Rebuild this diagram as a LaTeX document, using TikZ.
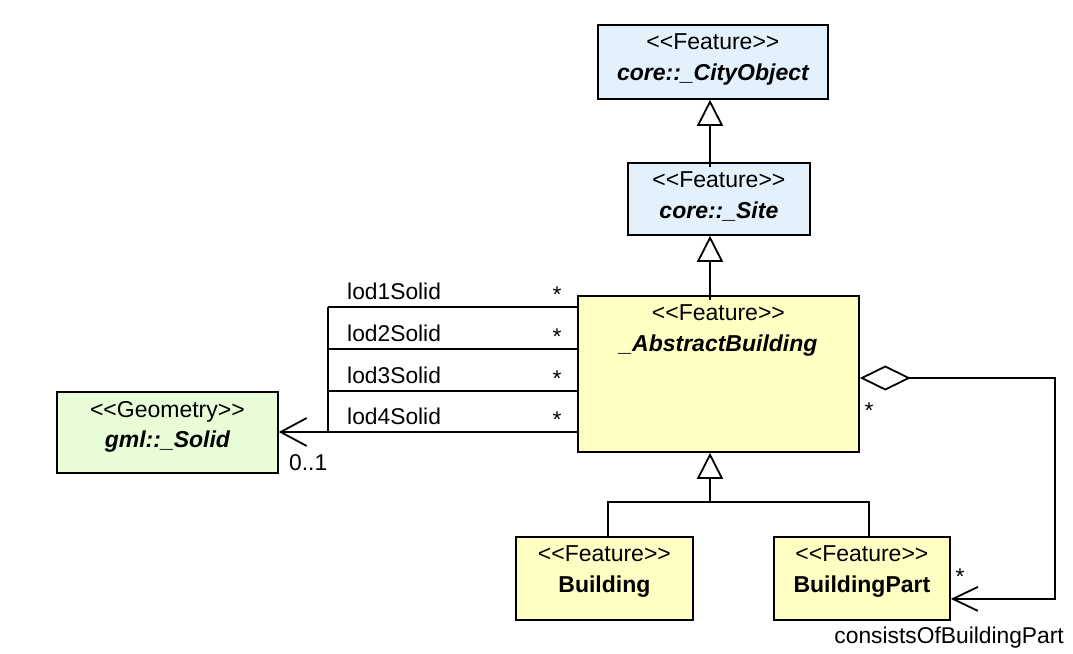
\documentclass[tikz,border=0pt]{standalone}
\usepackage{fontspec}
\setmainfont{Liberation Sans}[Ligatures=TeXOff]
\usepackage{tikz}
\usetikzlibrary{arrows.meta}
\definecolor{featblue}{HTML}{E3F1FC}
\definecolor{featyellow}{HTML}{FFFFC4}
\definecolor{geomgreen}{HTML}{E8FCD8}
\tikzset{
  cls/.style={draw, rectangle, line width=1.8pt, inner sep=0pt, anchor=north west},
  stereo/.style={anchor=base, font=\fontsize{23}{27}\selectfont},
  clsname/.style={anchor=base, font=\fontsize{23}{27}\selectfont\bfseries\itshape},
  clsbold/.style={anchor=base, font=\fontsize{23}{27}\selectfont\bfseries},
  role/.style={anchor=base, inner sep=0pt, font=\fontsize{22.8}{26}\selectfont},
  conn/.style={line width=1.8pt},
  gen/.style={conn, -{Triangle[open, length=26pt, width=26pt]}},
  nav/.style={conn, -{Straight Barb[length=26pt, width=28pt]}},
  agg/.style={conn, {Diamond[open, length=51pt, width=25pt]}-{Straight Barb[length=25pt, width=24pt]}}
}
\begin{document}
\begin{tikzpicture}[x=1pt, y=-1pt]
  \useasboundingbox (0,0) rectangle (1073,653);
  \node[cls, fill=featblue, minimum width=230pt, minimum height=74pt] (cityobj) at (597,24) {};
  \node[stereo] at ([yshift=-25pt]cityobj.north) {<<Feature>>};
  \node[clsname] at ([yshift=-56pt]cityobj.north) {core::\_CityObject};
  \node[cls, fill=featblue, minimum width=182pt, minimum height=72pt] (site) at (627,162) {};
  \node[stereo] at ([yshift=-25pt]site.north) {<<Feature>>};
  \node[clsname] at ([yshift=-56pt]site.north) {core::\_Site};
  \node[cls, fill=featyellow, minimum width=281pt, minimum height=156pt] (absbldg) at (577,295) {};
  \node[stereo] at ([yshift=-25pt]absbldg.north) {<<Feature>>};
  \node[clsname] at ([yshift=-56pt]absbldg.north) {\_AbstractBuilding};
  \node[cls, fill=geomgreen, minimum width=221pt, minimum height=81pt] (solid) at (56,391) {};
  \node[stereo] at ([yshift=-26pt]solid.north) {<<Geometry>>};
  \node[clsname] at ([yshift=-56pt]solid.north) {gml::\_Solid};
  \node[cls, fill=featyellow, minimum width=177pt, minimum height=83pt] (bldg) at (515,536) {};
  \node[stereo] at ([yshift=-25pt]bldg.north) {<<Feature>>};
  \node[clsbold] at ([yshift=-56pt]bldg.north) {Building};
  \node[cls, fill=featyellow, minimum width=176pt, minimum height=83pt] (bldgpart) at (773,536) {};
  \node[stereo] at ([yshift=-25pt]bldgpart.north) {<<Feature>>};
  \node[clsbold] at ([yshift=-56pt]bldgpart.north) {BuildingPart};

  \coordinate (fork) at (710,502);
  \coordinate (loop) at (1055,378);
  \draw[gen] ([yshift=-5pt]site.north -| fork) -- (cityobj.south -| fork);
  \draw[gen] ([yshift=-5pt]absbldg.north -| fork) -- (site.south -| fork);
  \draw[conn] ([xshift=3.5pt]bldg.north) |- (fork) -| ([xshift=7pt]bldgpart.north);
  \draw[gen] (fork) -- (absbldg.south -| fork);

  \foreach \n/\y in {1/307,2/349,3/391,4/432} {
    \coordinate (lod\n) at (328,\y);
    \draw[conn] (lod\n) -- (absbldg.west |- lod\n);
    \node[role, anchor=base west] at (347,\y-7.5) {lod\n Solid};
    \node[role] at (557,\y-5) {*};
  }
  \draw[conn] (lod1) -- (lod4);
  \draw[nav] (lod4) -- (solid.east |- lod4);
  \node[role, anchor=base west] at (289,470) {0..1};

  \draw[agg] (absbldg.east |- loop) -- (loop) |- ([yshift=-20.5pt]bldgpart.east);
  \node[role] at (869,418) {*};
  \node[role] at (960,584) {*};
  \node[role, anchor=base east] at (1064,643) {consistsOfBuildingPart};
\end{tikzpicture}
\end{document}
